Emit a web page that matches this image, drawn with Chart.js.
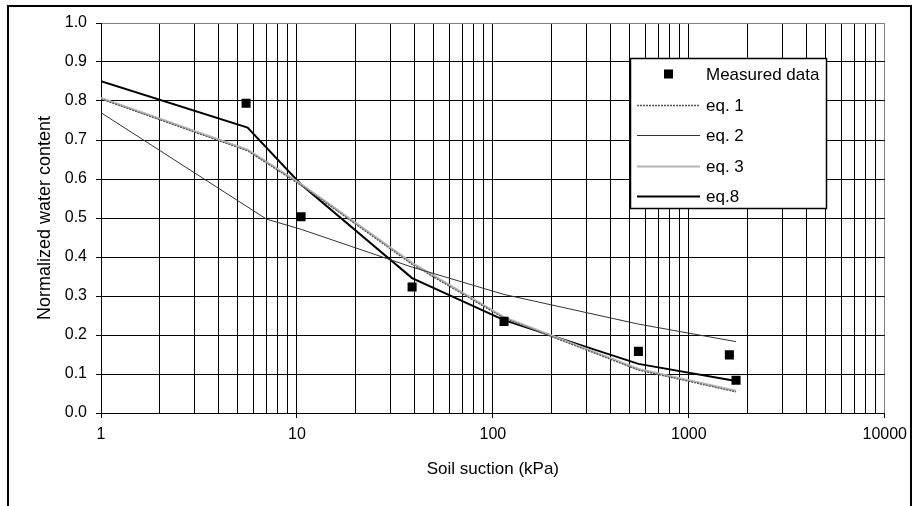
<!DOCTYPE html>
<html>
<head>
<meta charset="utf-8">
<script src="https://cdn.jsdelivr.net/npm/chart.js@4/dist/chart.umd.min.js"></script>
<style>
  html, body { margin: 0; padding: 0; background: #fff; }
</style>
</head>
<body>
<canvas id="chart" width="914" height="506"></canvas>
<script>
// -------------------------------
// Data
// -------------------------------
const measuredX = [5.5, 10.5, 38.7, 114, 553, 1611, 1742];
const measuredY = [0.794, 0.503, 0.323, 0.235, 0.158, 0.149, 0.084];

const eqX = [1, 5.6, 10.5, 38.7, 114, 553, 1742];
const eq1 = [0.805, 0.672, 0.584, 0.381, 0.243, 0.110, 0.054];
const eq3 = [0.808, 0.675, 0.587, 0.385, 0.246, 0.113, 0.057];
const eq8 = [0.851, 0.732, 0.586, 0.346, 0.238, 0.126, 0.082];

const eq2X = [1, 7, 10.5, 38.7, 114, 553, 1742];
const eq2 = [0.770, 0.497, 0.471, 0.374, 0.304, 0.228, 0.183];

const seriesNames = ["Measured data", "eq. 1", "eq. 2", "eq. 3", "eq.8"];
const xTickLabels = ["1", "10", "100", "1000", "10000"];
const yTickLabels = ["0.0", "0.1", "0.2", "0.3", "0.4", "0.5", "0.6", "0.7", "0.8", "0.9", "1.0"];

const FONT = "'Liberation Sans', Arial, sans-serif";

function pts(xs, ys) {
    return xs.map((x, i) => ({ x: x, y: ys[i] }));
}

// gridline positions of the log axis: 1..9 per decade
const decades = xTickLabels.map(Number);
const xGridValues = [];
decades.slice(0, -1).forEach(d => {
    for (let m = 1; m < 10; m++) xGridValues.push(d * m);
});
xGridValues.push(decades[decades.length - 1]);

// -------------------------------
// Plugins: frame + boxed legend
// -------------------------------
const framePlugin = {
    id: "frame",
    beforeDraw(chart) {
        const ctx = chart.ctx;
        ctx.save();
        ctx.fillStyle = "#fff";
        ctx.fillRect(0, 0, chart.width, chart.height);
        ctx.strokeStyle = "#000";
        ctx.lineWidth = 2;
        ctx.strokeRect(8, 6, 903, 560);
        ctx.restore();
    }
};

const legendPlugin = {
    id: "boxLegend",
    afterDraw(chart) {
        const ctx = chart.ctx;
        const bx = 630, by = 58, bw = 196, bh = 150;
        ctx.save();
        ctx.fillStyle = "#fff";
        ctx.fillRect(bx, by, bw, bh);
        ctx.strokeStyle = "#000";
        ctx.lineWidth = 1.5;
        ctx.strokeRect(bx + 0.5, by + 0.5, bw, bh);

        ctx.font = "17px " + FONT;
        ctx.textBaseline = "middle";
        chart.data.datasets.forEach((ds, i) => {
            const y = Math.round(by + 16 + i * 30.5) + 0.5;
            if (ds.showLine === false) {
                ctx.fillStyle = ds.backgroundColor;
                ctx.fillRect(664, y - 5, 9, 9);
            } else {
                ctx.strokeStyle = ds.borderColor;
                ctx.lineWidth = ds.borderWidth;
                ctx.setLineDash(ds.borderDash || []);
                ctx.beginPath();
                ctx.moveTo(637, y);
                ctx.lineTo(700, y);
                ctx.stroke();
                ctx.setLineDash([]);
            }
            ctx.fillStyle = "#000";
            ctx.fillText(ds.label, 706, y + 1);
        });
        ctx.restore();
    }
};

// -------------------------------
// Chart
// -------------------------------
new Chart(document.getElementById("chart"), {
    type: "line",
    data: {
        datasets: [
            {
                label: seriesNames[0],
                data: pts(measuredX, measuredY),
                showLine: false,
                pointStyle: "rect",
                pointRadius: 6.4,
                backgroundColor: "#000",
                borderColor: "#000",
                borderWidth: 0
            },
            {
                label: seriesNames[1],
                data: pts(eqX, eq1),
                borderColor: "#555",
                borderWidth: 1.3,
                borderDash: [2, 1],
                pointRadius: 0
            },
            {
                label: seriesNames[2],
                data: pts(eq2X, eq2),
                borderColor: "#333",
                borderWidth: 1,
                pointRadius: 0
            },
            {
                label: seriesNames[3],
                data: pts(eqX, eq3),
                borderColor: "#b4b4b4",
                borderWidth: 2,
                pointRadius: 0
            },
            {
                label: seriesNames[4],
                data: pts(eqX, eq8),
                borderColor: "#000",
                borderWidth: 2,
                pointRadius: 0
            }
        ]
    },
    options: {
        responsive: false,
        animation: false,
        devicePixelRatio: 1,
        layout: { padding: { left: 8, right: 26, top: 23, bottom: 0 } },
        plugins: {
            legend: { display: false },
            tooltip: { enabled: false }
        },
        scales: {
            x: {
                type: "logarithmic",
                min: 1,
                max: 10000,
                afterBuildTicks: s => { s.ticks = xGridValues.map(v => ({ value: v })); },
                afterFit: s => { s.height = 93; },
                ticks: {
                    autoSkip: false,
                    maxRotation: 0,
                    padding: 7,
                    color: "#000",
                    font: { family: FONT, size: 16 },
                    callback: v => {
                        const l = xTickLabels.find(t => Number(t) === v);
                        return l || "";
                    }
                },
                grid: {
                    color: c => (c.tick && c.tick.value === 10000 ? "#808080" : "#000"),
                    tickColor: c => (c.tick && decades.includes(c.tick.value) ? "#000" : "rgba(0,0,0,0)"),
                    tickLength: 5,
                    lineWidth: 1
                },
                border: { color: "#000", width: 1 },
                title: {
                    display: true,
                    text: "Soil suction (kPa)",
                    color: "#000",
                    font: { family: FONT, size: 17 },
                    padding: { top: 0, bottom: 26 }
                }
            },
            y: {
                min: 0,
                max: 1,
                afterFit: s => { s.width = 93; },
                ticks: {
                    stepSize: 0.1,
                    padding: 9,
                    color: "#000",
                    font: { family: FONT, size: 16 },
                    callback: (v, i) => yTickLabels[i]
                },
                grid: {
                    color: c => (c.tick && c.tick.value === 1 ? "#808080" : "#000"),
                    tickColor: "#000",
                    tickLength: 5,
                    lineWidth: 1
                },
                border: { color: "#000", width: 1 },
                title: {
                    display: true,
                    text: "Normalized water content",
                    color: "#000",
                    font: { family: FONT, size: 18 },
                    padding: { top: 26, bottom: 0 }
                }
            }
        }
    },
    plugins: [framePlugin, legendPlugin]
});
</script>
</body>
</html>
